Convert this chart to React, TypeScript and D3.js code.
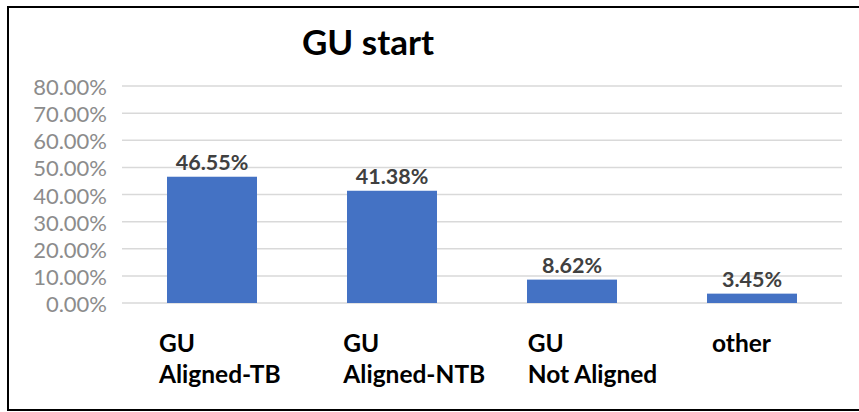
import * as d3 from 'd3'

const categories = ['GU Aligned-TB', 'GU Aligned-NTB', 'GU Not Aligned', 'other']
const labelLines = [['GU', 'Aligned-TB'], ['GU', 'Aligned-NTB'], ['GU', 'Not Aligned'], ['other']]
const values = [46.55, 41.38, 8.62, 3.45]
const yTicks = [0, 10, 20, 30, 40, 50, 60, 70, 80]
const title = 'GU start'

const W = 859
const H = 412
const FONT = 'Lato, "Open Sans", sans-serif'

const App = () => {
  const x = d3.scaleBand().domain(categories).range([122, 842]).paddingInner(0.5).paddingOuter(0.25)
  const y = d3.scaleLinear().domain([0, 80]).range([303, 86])
  // the category labels sit a bit apart from the bars
  const xLabel = d3.scalePoint().domain(categories).range([159, 712])
  const fmt = (v: number) => v.toFixed(2) + '%'

  return (
    <svg width={W} height={H} style={{ position: 'absolute', left: 0, top: 0 }} fontFamily={FONT}>
      <rect x={0} y={0} width={W} height={H} fill="#fff" />
      <rect x={8} y={7} width={W + 10} height={403} fill="none" stroke="#000" strokeWidth={2} />

      <text x={368} y={55} textAnchor="middle" fontSize={35} fontWeight="bold" fill="#000">{title}</text>

      {yTicks.map((t) => (
        <g key={t}>
          <line x1={122} x2={842} y1={y(t)} y2={y(t)} stroke="#d9d9d9" strokeWidth={1.5} />
          <text x={107} y={y(t) + 9} textAnchor="end" fontSize={22} fill="#8c8c8c">{fmt(t)}</text>
        </g>
      ))}

      {values.map((v, i) => (
        <g key={categories[i]}>
          <rect x={x(categories[i])} y={y(v)} width={x.bandwidth()} height={y(0) - y(v)} fill="#4472c4" />
          <text x={(x(categories[i]) ?? 0) + x.bandwidth() / 2} y={y(v) - 7} textAnchor="middle"
            fontSize={21.5} fontWeight="bold" fill="#404040">{fmt(v)}</text>
        </g>
      ))}

      {labelLines.map((lines, i) => (
        <text key={categories[i]} x={xLabel(categories[i])} fontSize={24.5} fontWeight="bold" fill="#000">
          {lines.map((l, j) => (
            <tspan key={j} x={xLabel(categories[i])} y={352 + j * 31}>{l}</tspan>
          ))}
        </text>
      ))}
    </svg>
  )
}

export default App
